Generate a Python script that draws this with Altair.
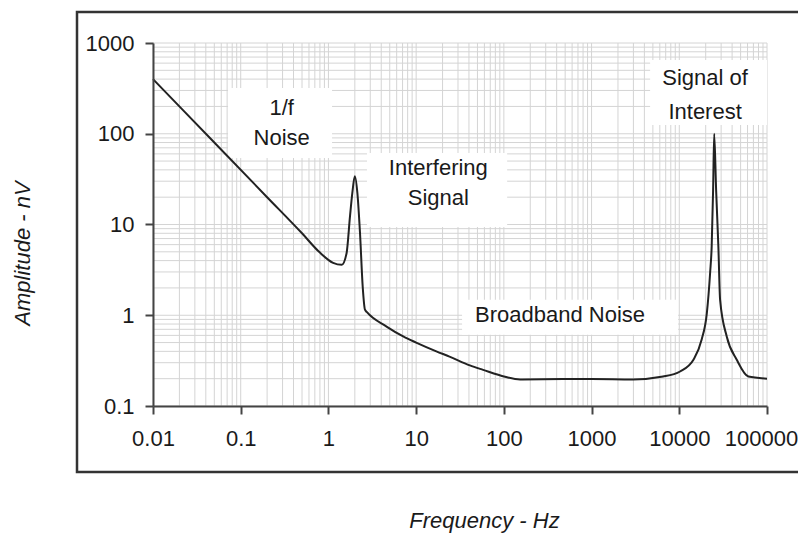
import json
import altair as alt
import pandas as pd

# ---- data ----
freq = [0.01, 0.05, 0.2, 0.5, 0.8, 1.13, 1.42, 1.61, 1.76, 1.87, 2.0, 2.14, 2.29, 2.46,
        2.61, 2.75, 4.6, 7.2, 10, 17, 24, 41, 58, 103, 153, 500, 1000, 2970, 6530,
        10200, 14500, 18000, 20600, 22500, 23400, 24300, 25000, 26300, 27900, 29200,
        34800, 45200, 61400, 100000]
amp = [400, 80, 20, 8.0, 4.9, 3.78, 3.6, 4.83, 12.2, 22, 34, 22, 8.1, 2.05,
       1.15, 1.08, 0.75, 0.58, 0.50, 0.40, 0.35, 0.28, 0.25, 0.21, 0.196, 0.198, 0.198,
       0.196, 0.211, 0.24, 0.323, 0.54, 1.05, 3.0, 5.7, 24, 100, 24, 5.7, 1.48,
       0.58, 0.323, 0.211, 0.2]

x_ticks = [0.01, 0.1, 1, 10, 100, 1000, 10000, 100000]
x_tick_labels = ["0.01", "0.1", "1", "10", "100", "1000", "10000", "100000"]
y_ticks = [0.1, 1, 10, 100, 1000]
y_tick_labels = ["0.1", "1", "10", "100", "1000"]

x_grid = [m * d for d in [0.01, 0.1, 1, 10, 100, 1000, 10000] for m in range(1, 10)] + [100000]
y_grid = [m * d for d in [0.1, 1, 10, 100] for m in range(1, 10)] + [1000]

label_text = ["1/f", "Noise", "Interfering", "Signal", "Broadband Noise", "Signal of", "Interest"]
label_x = [0.293, 0.293, 17.9, 17.9, 437, 19700, 19700]
label_y = [191, 89.2, 41.7, 19.5, 1.01, 408, 175]

box_x1 = [0.0717, 2.75, 33.4, 4650]
box_x2 = [1.10, 109, 9690, 100000]
box_y1 = [54, 9.4, 0.61, 125]
box_y2 = [320, 61.5, 1.48, 650]

# ---- styling ----
FONT = "Liberation Sans"
FS = 22
TXT = "#1a1a1a"
AX = "#444444"

xs = alt.Scale(type="log", domain=[0.01, 100000], nice=False)
ys = alt.Scale(type="log", domain=[0.1, 1000], nice=False)

x_axis = alt.Axis(
    values=x_ticks,
    labelExpr=json.dumps(x_tick_labels) + "[round(log(datum.value)/LN10)+2]",
    grid=False, tickSize=8, tickWidth=2, tickColor=AX,
    domainColor=AX, domainWidth=2, zindex=1,
    labelFont=FONT, labelFontSize=FS, labelColor=TXT, labelPadding=14,
    labelFlush=False, labelOverlap=False,
    labelOffset={"condition": {"test": "datum.value >= 100000", "value": -6}, "value": 0},
    title="Frequency - Hz", titleFont=FONT, titleFontSize=FS, titleFontStyle="italic",
    titleFontWeight="normal", titleColor=TXT, titleX=331, titleY=114,
    titleAlign="center", titleBaseline="middle",
)
y_axis = alt.Axis(
    values=y_ticks,
    labelExpr=json.dumps(y_tick_labels) + "[round(log(datum.value)/LN10)+1]",
    grid=False, tickSize=8, tickWidth=2, tickColor=AX,
    domainColor=AX, domainWidth=2, zindex=1,
    labelFont=FONT, labelFontSize=FS, labelColor=TXT, labelPadding=11,
    labelOverlap=False,
    title="Amplitude - nV", titleFont=FONT, titleFontSize=FS, titleFontStyle="italic",
    titleFontWeight="normal", titleColor=TXT, titleX=-131, titleY=210, titleAngle=270,
    titleAlign="center", titleBaseline="middle",
)


def X(field):
    return alt.X(field, type="quantitative", scale=xs, axis=x_axis)


def Y(field):
    return alt.Y(field, type="quantitative", scale=ys, axis=y_axis)


frame = alt.Chart(pd.DataFrame({"k": [0]})).mark_rect(
    fill="white", fillOpacity=0, stroke="#333333", strokeWidth=2.5
).encode(x=alt.value(-76), x2=alt.value(680), y=alt.value(-31), y2=alt.value(429))

vgrid = alt.Chart(pd.DataFrame({"f": x_grid})).mark_rule(
    color="#d4d4d4", strokeWidth=1
).encode(x=X("f"))

hgrid = alt.Chart(pd.DataFrame({"a": y_grid})).mark_rule(
    color="#d4d4d4", strokeWidth=1
).encode(y=Y("a"))

boxes = alt.Chart(pd.DataFrame({"x1": box_x1, "x2": box_x2, "y1": box_y1, "y2": box_y2})).mark_rect(
    fill="white"
).encode(x=X("x1"), x2="x2", y=Y("y1"), y2="y2")

curve = alt.Chart(pd.DataFrame({"freq": freq, "amp": amp})).mark_line(
    color="#222222", strokeWidth=2, interpolate="monotone"
).encode(x=X("freq"), y=Y("amp"), order=alt.Order("freq:Q"))

labels = alt.Chart(pd.DataFrame({"x": label_x, "y": label_y, "t": label_text})).mark_text(
    font=FONT, fontSize=FS, color=TXT, align="center", baseline="middle"
).encode(x=X("x"), y=Y("y"), text="t:N")

chart = alt.layer(frame, vgrid, hgrid, boxes, curve, labels).properties(
    width=614, height=363,
    autosize=alt.AutoSizeParams(type="none"),
    padding={"left": 145, "top": 35, "right": 31, "bottom": 128},
    background="white",
).configure_view(stroke=None)

chart.save("out.html", embed_options={"renderer": "svg", "actions": False})
